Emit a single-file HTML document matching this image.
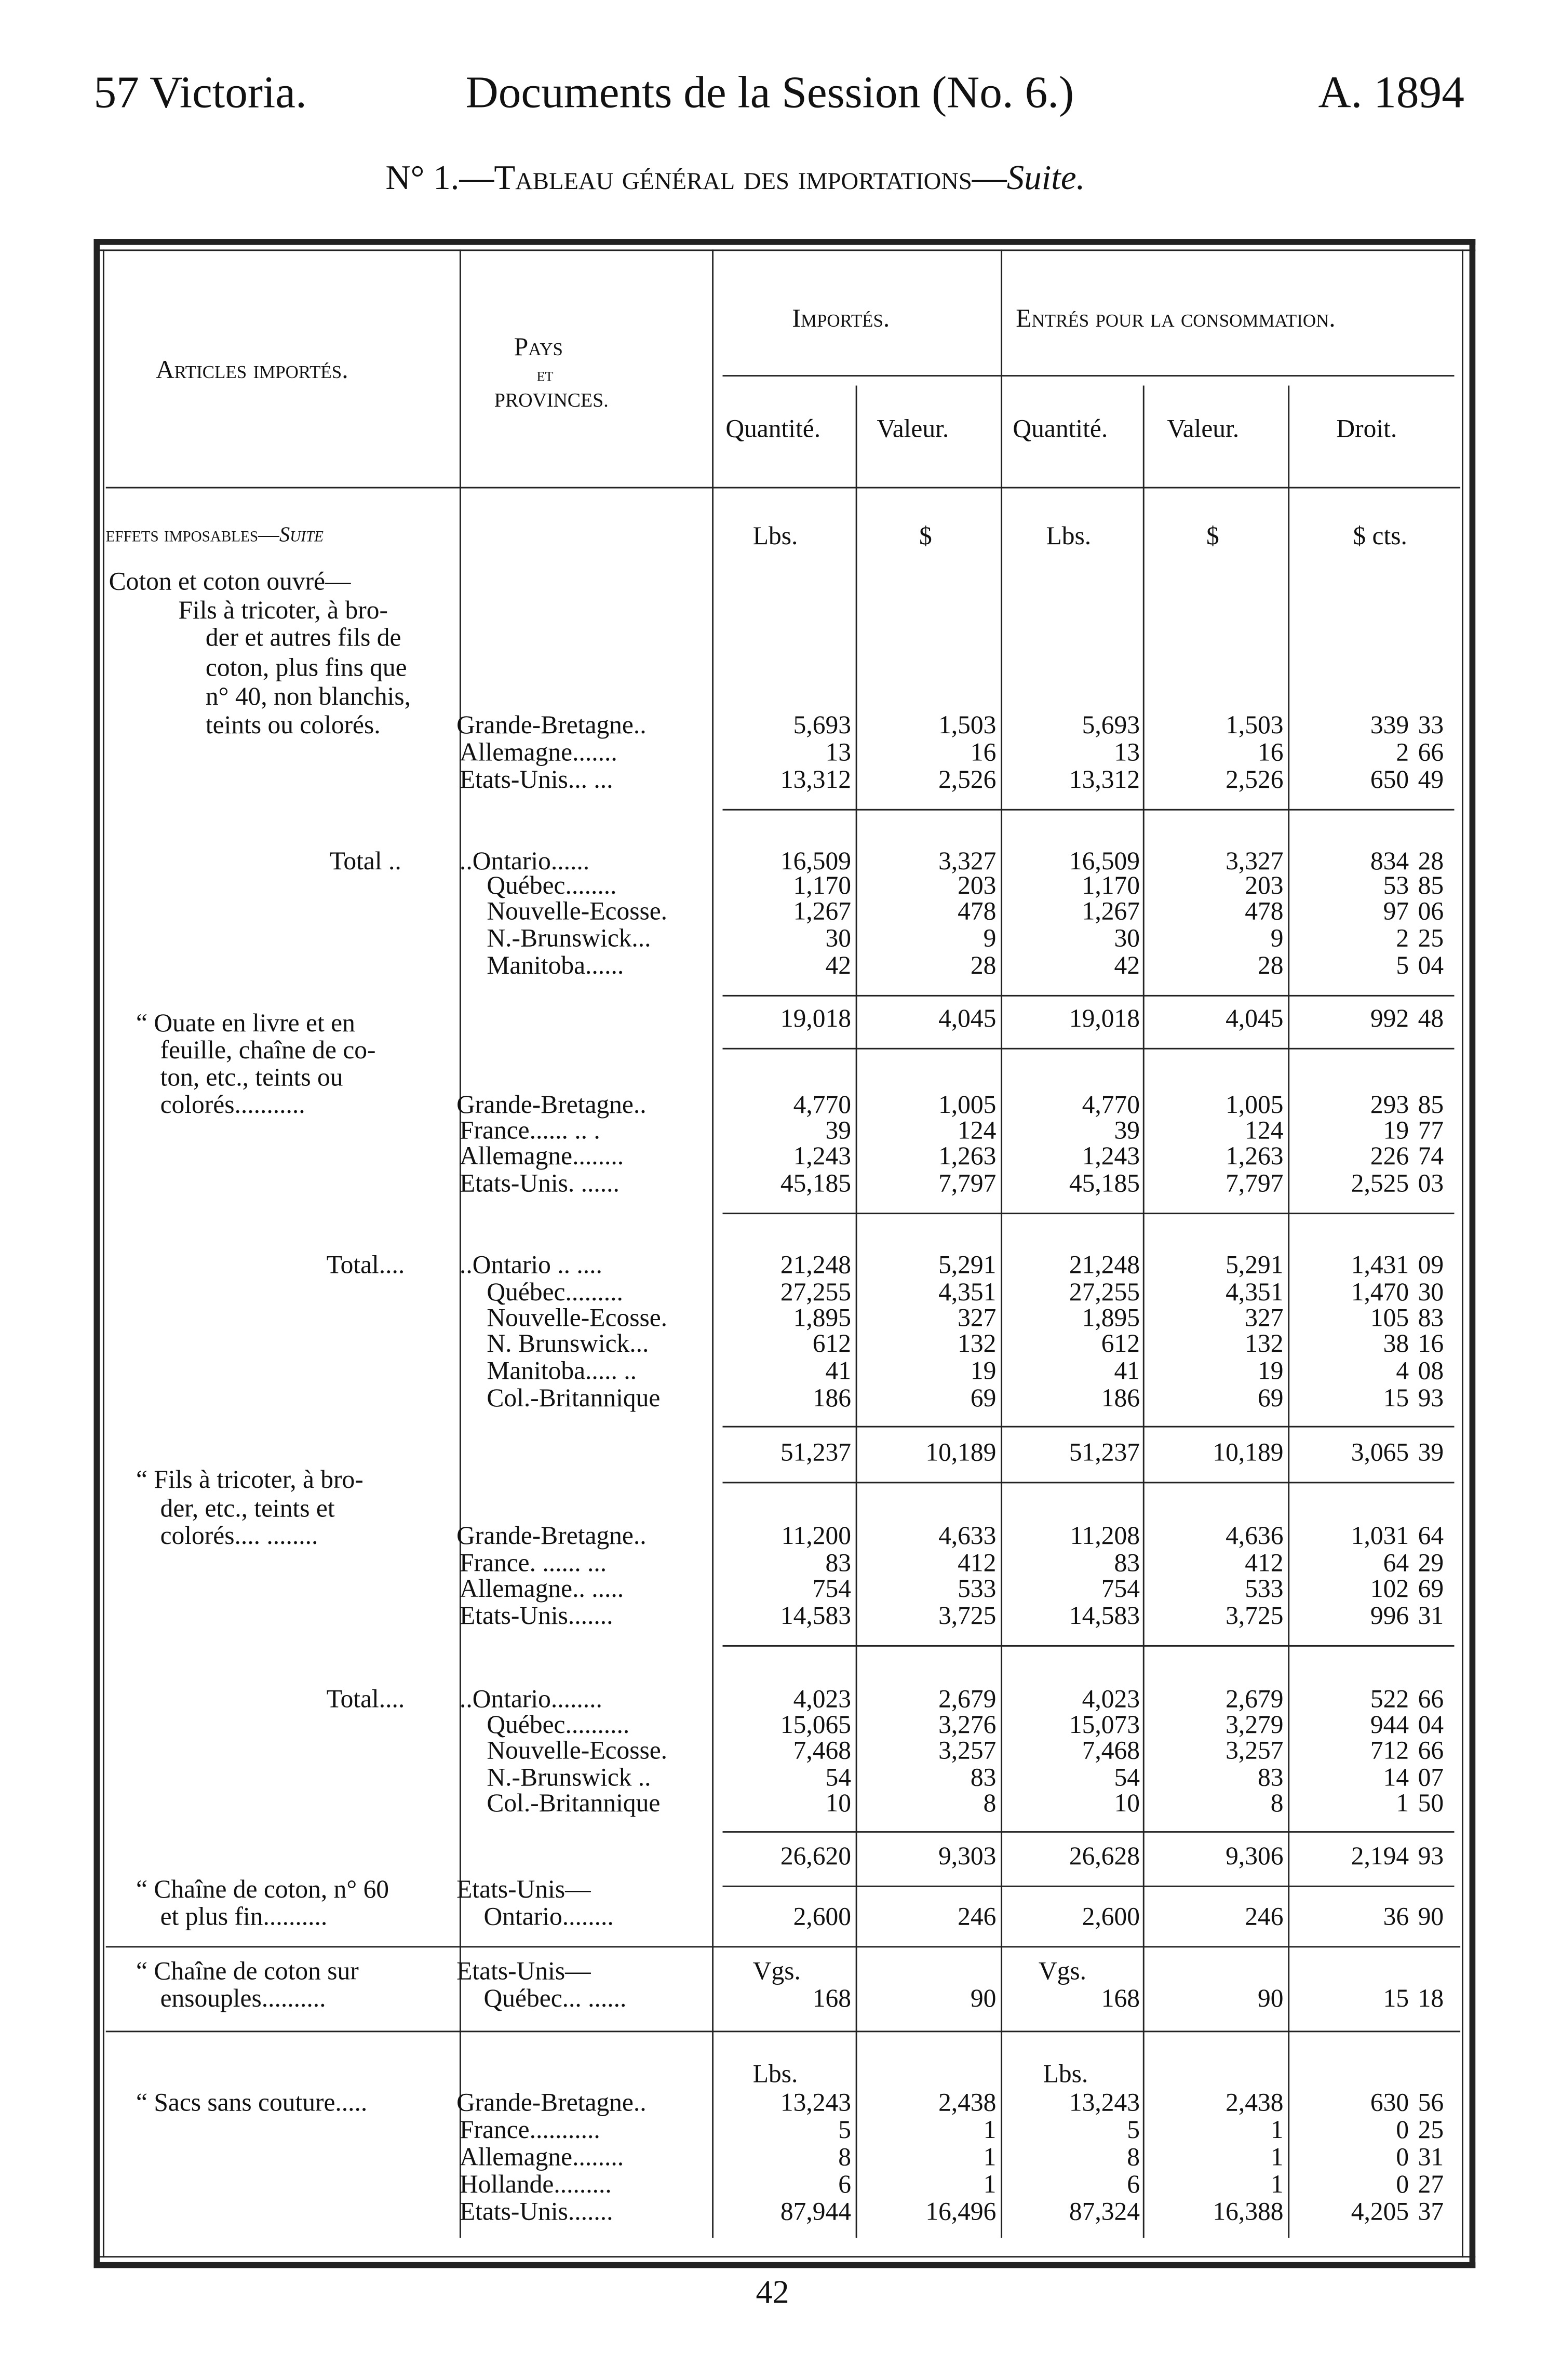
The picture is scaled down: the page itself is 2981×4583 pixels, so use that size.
<!DOCTYPE html>
<html><head><meta charset="utf-8">
<style>
html,body{margin:0;padding:0;background:#fff;}
body{width:2981px;height:4583px;overflow:hidden;}
#p{position:absolute;left:0;top:0;width:1024px;height:1574px;transform:scale(2.9111,2.9117);transform-origin:0 0;font-family:"Liberation Serif",serif;color:#111;font-size:17px;}
#p div,#p span{position:absolute;white-space:nowrap;}
.r{left:0;width:1024px;height:20px;line-height:20px;}
.a{right:461px}.b{right:365px}.c{right:270px}.d{right:175px}.e{right:92px}.f{right:69px}
.v{background:#222;width:1px;}
.h{background:#222;height:1px;}
.sc{font-variant:small-caps;}
</style></head><body><div id="p">
<div style="left:62px;top:45px;font-size:30px">57 Victoria.</div>
<div style="left:308px;top:45px;font-size:30px">Documents de la Session (No. 6.)</div>
<div style="left:872px;top:45px;font-size:30px">A. 1894</div>
<div style="left:255px;top:105px;font-size:23px">N° 1.—<span class="sc" style="position:static">Tableau général des importations</span>—<i>Suite.</i></div>

<!-- frame -->
<div class="h" style="left:62px;top:158px;width:914px;height:4px"></div>
<div class="h" style="left:62px;top:165px;width:914px;height:1px"></div>
<div class="h" style="left:62px;top:1492px;width:914px;height:1px"></div>
<div class="h" style="left:62px;top:1496px;width:914px;height:4px"></div>
<div class="v" style="left:62px;top:158px;height:1342px;width:4px"></div>
<div class="v" style="left:68px;top:165px;height:1328px"></div>
<div class="v" style="left:972px;top:158px;height:1342px;width:4px"></div>
<div class="v" style="left:967px;top:165px;height:1328px"></div>
<div class="v" style="left:304px;top:165px;height:1315px"></div>
<div class="v" style="left:471px;top:165px;height:1315px"></div>
<div class="v" style="left:566px;top:255px;height:1225px"></div>
<div class="v" style="left:662px;top:165px;height:1315px"></div>
<div class="v" style="left:756px;top:255px;height:1225px"></div>
<div class="v" style="left:852px;top:255px;height:1225px"></div>

<!-- header -->
<div class="sc" style="left:103px;top:235px;font-size:17px">Articles importés.</div>
<div class="sc" style="left:340px;top:220px;font-size:17px">Pays</div>
<div class="sc" style="left:355px;top:240px;font-size:13px">et</div>
<div class="sc" style="left:327px;top:257px;font-size:13px">PROVINCES.</div>
<div class="sc" style="left:524px;top:201px">Importés.</div>
<div class="sc" style="left:672px;top:201px">Entrés pour la consommation.</div>
<div class="h" style="left:478px;top:248px;width:484px"></div>
<div style="left:480px;top:274px">Quantité.</div>
<div style="left:580px;top:274px">Valeur.</div>
<div style="left:670px;top:274px">Quantité.</div>
<div style="left:772px;top:274px">Valeur.</div>
<div style="left:884px;top:274px">Droit.</div>
<div class="h" style="left:70px;top:322px;width:896px"></div>

<div class="r" style="top:345px"><span class="sc" style="left:70px;font-size:14px">effets imposables—<i>Suite</i></span><span style="left:498px">Lbs.</span><span style="left:608px">$</span><span style="left:692px">Lbs.</span><span style="left:798px">$</span><span style="left:895px">$ cts.</span></div>

<div class="r" style="top:375px"><span style="left:72px">Coton et coton ouvré—</span></div>
<div class="r" style="top:394px"><span style="left:118px">Fils à tricoter, à bro-</span></div>
<div class="r" style="top:412px"><span style="left:136px">der et autres fils de</span></div>
<div class="r" style="top:432px"><span style="left:136px">coton, plus fins que</span></div>
<div class="r" style="top:451px"><span style="left:136px">n° 40, non blanchis,</span></div>
<div class="r" style="top:470px"><span style="left:136px">teints ou colorés.</span><span style="left:302px">Grande-Bretagne..</span><span class="a">5,693</span><span class="b">1,503</span><span class="c">5,693</span><span class="d">1,503</span><span class="e">339</span><span class="f">33</span></div>
<div class="r" style="top:488px"><span style="left:304px">Allemagne.......</span><span class="a">13</span><span class="b">16</span><span class="c">13</span><span class="d">16</span><span class="e">2</span><span class="f">66</span></div>
<div class="r" style="top:506px"><span style="left:304px">Etats-Unis... ...</span><span class="a">13,312</span><span class="b">2,526</span><span class="c">13,312</span><span class="d">2,526</span><span class="e">650</span><span class="f">49</span></div>
<div class="h" style="left:478px;top:535px;width:484px"></div>

<div class="r" style="top:560px"><span style="left:218px">Total ..</span><span style="left:304px">..Ontario......</span><span class="a">16,509</span><span class="b">3,327</span><span class="c">16,509</span><span class="d">3,327</span><span class="e">834</span><span class="f">28</span></div>
<div class="r" style="top:576px"><span style="left:322px">Québec........</span><span class="a">1,170</span><span class="b">203</span><span class="c">1,170</span><span class="d">203</span><span class="e">53</span><span class="f">85</span></div>
<div class="r" style="top:593px"><span style="left:322px">Nouvelle-Ecosse.</span><span class="a">1,267</span><span class="b">478</span><span class="c">1,267</span><span class="d">478</span><span class="e">97</span><span class="f">06</span></div>
<div class="r" style="top:611px"><span style="left:322px">N.-Brunswick...</span><span class="a">30</span><span class="b">9</span><span class="c">30</span><span class="d">9</span><span class="e">2</span><span class="f">25</span></div>
<div class="r" style="top:629px"><span style="left:322px">Manitoba......</span><span class="a">42</span><span class="b">28</span><span class="c">42</span><span class="d">28</span><span class="e">5</span><span class="f">04</span></div>
<div class="h" style="left:478px;top:658px;width:484px"></div>
<div class="r" style="top:664px"><span class="a">19,018</span><span class="b">4,045</span><span class="c">19,018</span><span class="d">4,045</span><span class="e">992</span><span class="f">48</span></div>
<div class="h" style="left:478px;top:693px;width:484px"></div>

<div class="r" style="top:667px"><span style="left:90px">“ Ouate en livre et en</span></div>
<div class="r" style="top:685px"><span style="left:106px">feuille, chaîne de co-</span></div>
<div class="r" style="top:703px"><span style="left:106px">ton, etc., teints ou</span></div>
<div class="r" style="top:721px"><span style="left:106px">colorés...........</span><span style="left:302px">Grande-Bretagne..</span><span class="a">4,770</span><span class="b">1,005</span><span class="c">4,770</span><span class="d">1,005</span><span class="e">293</span><span class="f">85</span></div>
<div class="r" style="top:738px"><span style="left:304px">France...... .. .</span><span class="a">39</span><span class="b">124</span><span class="c">39</span><span class="d">124</span><span class="e">19</span><span class="f">77</span></div>
<div class="r" style="top:755px"><span style="left:304px">Allemagne........</span><span class="a">1,243</span><span class="b">1,263</span><span class="c">1,243</span><span class="d">1,263</span><span class="e">226</span><span class="f">74</span></div>
<div class="r" style="top:773px"><span style="left:304px">Etats-Unis. ......</span><span class="a">45,185</span><span class="b">7,797</span><span class="c">45,185</span><span class="d">7,797</span><span class="e">2,525</span><span class="f">03</span></div>
<div class="h" style="left:478px;top:802px;width:484px"></div>

<div class="r" style="top:827px"><span style="left:216px">Total....</span><span style="left:304px">..Ontario .. ....</span><span class="a">21,248</span><span class="b">5,291</span><span class="c">21,248</span><span class="d">5,291</span><span class="e">1,431</span><span class="f">09</span></div>
<div class="r" style="top:845px"><span style="left:322px">Québec.........</span><span class="a">27,255</span><span class="b">4,351</span><span class="c">27,255</span><span class="d">4,351</span><span class="e">1,470</span><span class="f">30</span></div>
<div class="r" style="top:862px"><span style="left:322px">Nouvelle-Ecosse.</span><span class="a">1,895</span><span class="b">327</span><span class="c">1,895</span><span class="d">327</span><span class="e">105</span><span class="f">83</span></div>
<div class="r" style="top:879px"><span style="left:322px">N. Brunswick...</span><span class="a">612</span><span class="b">132</span><span class="c">612</span><span class="d">132</span><span class="e">38</span><span class="f">16</span></div>
<div class="r" style="top:897px"><span style="left:322px">Manitoba..... ..</span><span class="a">41</span><span class="b">19</span><span class="c">41</span><span class="d">19</span><span class="e">4</span><span class="f">08</span></div>
<div class="r" style="top:915px"><span style="left:322px">Col.-Britannique</span><span class="a">186</span><span class="b">69</span><span class="c">186</span><span class="d">69</span><span class="e">15</span><span class="f">93</span></div>
<div class="h" style="left:478px;top:943px;width:484px"></div>
<div class="r" style="top:951px"><span class="a">51,237</span><span class="b">10,189</span><span class="c">51,237</span><span class="d">10,189</span><span class="e">3,065</span><span class="f">39</span></div>
<div class="h" style="left:478px;top:980px;width:484px"></div>

<div class="r" style="top:969px"><span style="left:90px">“ Fils à tricoter, à bro-</span></div>
<div class="r" style="top:988px"><span style="left:106px">der, etc., teints et</span></div>
<div class="r" style="top:1006px"><span style="left:106px">colorés.... ........</span><span style="left:302px">Grande-Bretagne..</span><span class="a">11,200</span><span class="b">4,633</span><span class="c">11,208</span><span class="d">4,636</span><span class="e">1,031</span><span class="f">64</span></div>
<div class="r" style="top:1024px"><span style="left:304px">France. ...... ...</span><span class="a">83</span><span class="b">412</span><span class="c">83</span><span class="d">412</span><span class="e">64</span><span class="f">29</span></div>
<div class="r" style="top:1041px"><span style="left:304px">Allemagne.. .....</span><span class="a">754</span><span class="b">533</span><span class="c">754</span><span class="d">533</span><span class="e">102</span><span class="f">69</span></div>
<div class="r" style="top:1059px"><span style="left:304px">Etats-Unis.......</span><span class="a">14,583</span><span class="b">3,725</span><span class="c">14,583</span><span class="d">3,725</span><span class="e">996</span><span class="f">31</span></div>
<div class="h" style="left:478px;top:1088px;width:484px"></div>

<div class="r" style="top:1114px"><span style="left:216px">Total....</span><span style="left:304px">..Ontario........</span><span class="a">4,023</span><span class="b">2,679</span><span class="c">4,023</span><span class="d">2,679</span><span class="e">522</span><span class="f">66</span></div>
<div class="r" style="top:1131px"><span style="left:322px">Québec..........</span><span class="a">15,065</span><span class="b">3,276</span><span class="c">15,073</span><span class="d">3,279</span><span class="e">944</span><span class="f">04</span></div>
<div class="r" style="top:1148px"><span style="left:322px">Nouvelle-Ecosse.</span><span class="a">7,468</span><span class="b">3,257</span><span class="c">7,468</span><span class="d">3,257</span><span class="e">712</span><span class="f">66</span></div>
<div class="r" style="top:1166px"><span style="left:322px">N.-Brunswick ..</span><span class="a">54</span><span class="b">83</span><span class="c">54</span><span class="d">83</span><span class="e">14</span><span class="f">07</span></div>
<div class="r" style="top:1183px"><span style="left:322px">Col.-Britannique</span><span class="a">10</span><span class="b">8</span><span class="c">10</span><span class="d">8</span><span class="e">1</span><span class="f">50</span></div>
<div class="h" style="left:478px;top:1211px;width:484px"></div>
<div class="r" style="top:1218px"><span class="a">26,620</span><span class="b">9,303</span><span class="c">26,628</span><span class="d">9,306</span><span class="e">2,194</span><span class="f">93</span></div>
<div class="h" style="left:478px;top:1247px;width:484px"></div>

<div class="r" style="top:1240px"><span style="left:90px">“ Chaîne de coton, n° 60</span><span style="left:302px">Etats-Unis—</span></div>
<div class="r" style="top:1258px"><span style="left:106px">et plus fin..........</span><span style="left:320px">Ontario........</span><span class="a">2,600</span><span class="b">246</span><span class="c">2,600</span><span class="d">246</span><span class="e">36</span><span class="f">90</span></div>
<div class="h" style="left:70px;top:1287px;width:896px"></div>
<div class="r" style="top:1294px"><span style="left:90px">“ Chaîne de coton sur</span><span style="left:302px">Etats-Unis—</span><span style="left:498px">Vgs.</span><span style="left:687px">Vgs.</span></div>
<div class="r" style="top:1312px"><span style="left:106px">ensouples..........</span><span style="left:320px">Québec... ......</span><span class="a">168</span><span class="b">90</span><span class="c">168</span><span class="d">90</span><span class="e">15</span><span class="f">18</span></div>
<div class="h" style="left:70px;top:1343px;width:896px"></div>
<div class="r" style="top:1362px"><span style="left:498px">Lbs.</span><span style="left:690px">Lbs.</span></div>
<div class="r" style="top:1381px"><span style="left:90px">“ Sacs sans couture.....</span><span style="left:302px">Grande-Bretagne..</span><span class="a">13,243</span><span class="b">2,438</span><span class="c">13,243</span><span class="d">2,438</span><span class="e">630</span><span class="f">56</span></div>
<div class="r" style="top:1399px"><span style="left:304px">France...........</span><span class="a">5</span><span class="b">1</span><span class="c">5</span><span class="d">1</span><span class="e">0</span><span class="f">25</span></div>
<div class="r" style="top:1417px"><span style="left:304px">Allemagne........</span><span class="a">8</span><span class="b">1</span><span class="c">8</span><span class="d">1</span><span class="e">0</span><span class="f">31</span></div>
<div class="r" style="top:1435px"><span style="left:304px">Hollande.........</span><span class="a">6</span><span class="b">1</span><span class="c">6</span><span class="d">1</span><span class="e">0</span><span class="f">27</span></div>
<div class="r" style="top:1453px"><span style="left:304px">Etats-Unis.......</span><span class="a">87,944</span><span class="b">16,496</span><span class="c">87,324</span><span class="d">16,388</span><span class="e">4,205</span><span class="f">37</span></div>

<div style="left:500px;top:1503px;font-size:22px">42</div>
</div></body></html>
